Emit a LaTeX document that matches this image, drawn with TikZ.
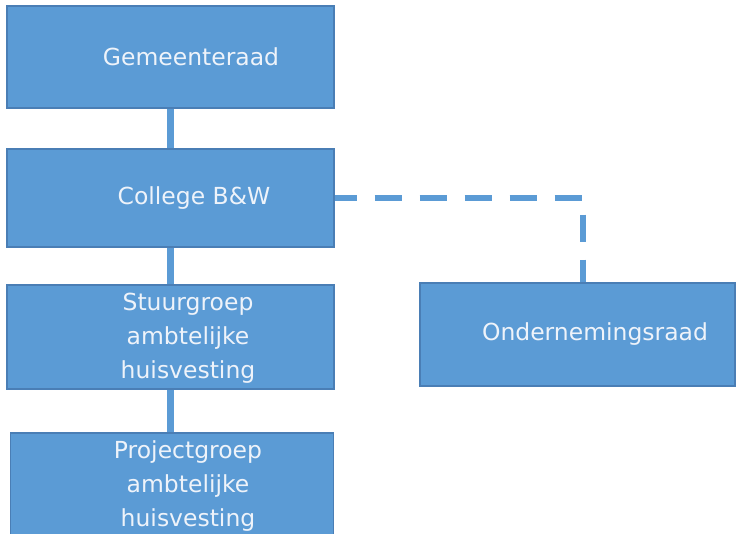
\documentclass[tikz,border=0pt]{standalone}
\usepackage{fontspec}
\setmainfont{DejaVu Sans}

\definecolor{orgblue}{HTML}{5B9BD5}
\definecolor{orgedge}{HTML}{4A7EB5}
\definecolor{orgtext}{HTML}{EEF3FA}

\begin{document}
\begin{tikzpicture}[x=0.75pt, y=-0.75pt,
  orgbox/.style={draw=orgedge, line width=1pt, fill=orgblue, inner sep=0pt,
    minimum width=327*0.75pt},
  orglabel/.style={text=orgtext, align=center, font=\fontsize{17.6}{25.5}\selectfont},
  orgline/.style={draw=orgblue, line width=4.8pt},
  orgdash/.style={orgline, dash pattern=on 20.25pt off 13.5pt, dash phase=3.75pt}]
\useasboundingbox (0,0) rectangle (738,533);
\node[orgbox, minimum height=102*0.75pt] (gem) at (170.5,57) {};
\node[orgbox, minimum height=98*0.75pt] (col) at (170.5,198) {};
\node[orgbox, minimum height=104*0.75pt] (stuur) at (170.5,337) {};
\node[orgbox, minimum height=106*0.75pt, minimum width=323*0.75pt] (proj) at (172,486) {};
\node[orgbox, minimum height=103*0.75pt, minimum width=315*0.75pt] (or) at (577.5,334.5) {};
\coordinate (hoek) at (583,198);
\draw[orgline] (gem) -- (col);
\draw[orgline] (col) -- (stuur);
\draw[orgline] (stuur.south) -- (stuur.south |- proj.north);
\draw[orgdash] (col.east) -- (hoek) -- (hoek |- or.north);
\node[orglabel] (gemtxt) at (191,57) {Gemeenteraad};
\node[orglabel] (coltxt) at (194,198) {College B\&W};
\node[orglabel] (stuurtxt) at (188,338) {Stuurgroep\\ambtelijke\\huisvesting};
\node[orglabel] (projtxt) at (188,486) {Projectgroep\\ambtelijke\\huisvesting};
\node[orglabel] (ortxt) at (595,334) {Ondernemingsraad};
\end{tikzpicture}
\end{document}
